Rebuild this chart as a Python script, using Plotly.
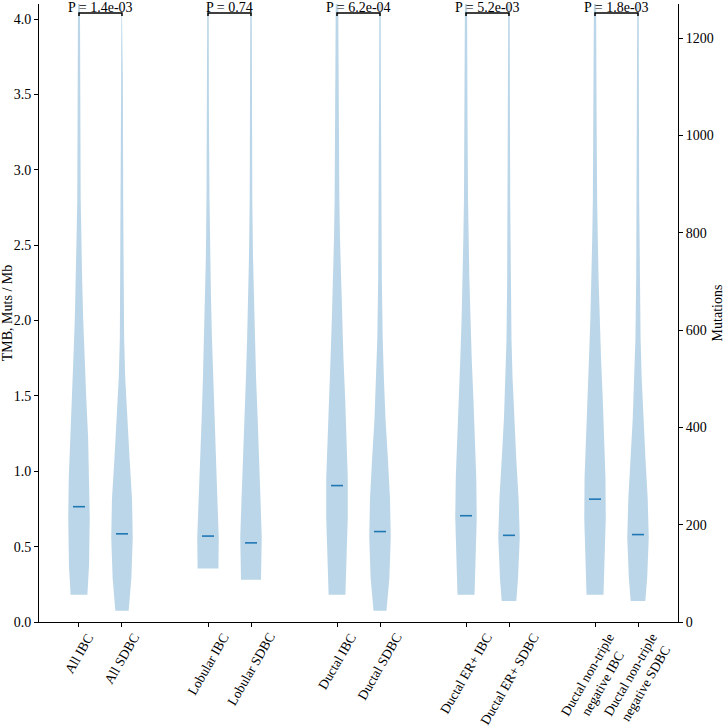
import plotly.graph_objects as go

# ---------------- data ----------------
categories = ["All IBC", "All SDBC", "Lobular IBC", "Lobular SDBC",
              "Ductal IBC", "Ductal SDBC", "Ductal ER+ IBC", "Ductal ER+ SDBC",
              "Ductal non-triple<br>negative IBC", "Ductal non-triple<br>negative SDBC"]
positions = [0, 1, 3, 4, 6, 7, 9, 10, 12, 13]
medians = [0.765, 0.585, 0.57, 0.525, 0.905, 0.60, 0.705, 0.575, 0.815, 0.58]

# violin outlines: TMB levels and relative width (1 = widest)
viol_y = [
    [0.18, 0.37, 0.69, 0.96, 1.22, 1.48, 1.75, 2.01, 2.28, 2.54, 2.80, 3.33, 3.86, 4.30],
    [0.075, 0.29, 0.56, 0.82, 1.09, 1.35, 1.62, 1.88, 2.28, 2.80, 3.60, 4.30],
    [0.355, 0.56, 0.82, 1.09, 1.35, 1.62, 1.88, 2.14, 2.41, 2.80, 3.33, 4.30],
    [0.28, 0.56, 0.82, 1.09, 1.35, 1.62, 1.88, 2.14, 2.41, 2.80, 3.33, 4.30],
    [0.18, 0.43, 0.69, 0.96, 1.22, 1.48, 1.75, 2.01, 2.28, 2.54, 2.80, 3.33, 3.86, 4.30],
    [0.075, 0.29, 0.56, 0.82, 1.09, 1.35, 1.62, 1.88, 2.28, 2.80, 3.60, 4.30],
    [0.18, 0.43, 0.69, 0.96, 1.22, 1.48, 1.75, 2.01, 2.28, 2.54, 2.80, 3.33, 3.86, 4.30],
    [0.14, 0.29, 0.56, 0.82, 1.09, 1.35, 1.62, 1.88, 2.28, 2.80, 3.60, 4.30],
    [0.18, 0.43, 0.69, 0.96, 1.22, 1.48, 1.75, 2.01, 2.28, 2.54, 2.80, 3.33, 3.86, 4.30],
    [0.14, 0.29, 0.56, 0.82, 1.09, 1.35, 1.62, 1.88, 2.28, 2.80, 3.60, 4.30],
]
viol_w = [
    [0.78, 0.93, 1.00, 0.95, 0.85, 0.68, 0.52, 0.39, 0.29, 0.23, 0.16, 0.13, 0.10, 0.08],
    [0.62, 0.87, 1.00, 0.93, 0.70, 0.47, 0.30, 0.20, 0.14, 0.11, 0.08, 0.05],
    [0.97, 1.00, 0.87, 0.74, 0.59, 0.47, 0.37, 0.28, 0.20, 0.14, 0.09, 0.06],
    [0.93, 1.00, 0.88, 0.78, 0.62, 0.47, 0.36, 0.25, 0.19, 0.12, 0.09, 0.06],
    [0.78, 0.90, 1.00, 1.00, 0.90, 0.76, 0.60, 0.48, 0.36, 0.28, 0.22, 0.16, 0.12, 0.10],
    [0.60, 0.87, 1.00, 0.93, 0.73, 0.51, 0.36, 0.25, 0.17, 0.11, 0.08, 0.06],
    [0.79, 0.90, 1.00, 0.95, 0.85, 0.69, 0.53, 0.41, 0.31, 0.25, 0.19, 0.14, 0.11, 0.09],
    [0.68, 0.84, 1.00, 0.89, 0.67, 0.47, 0.33, 0.23, 0.17, 0.11, 0.08, 0.06],
    [0.79, 0.90, 1.00, 0.97, 0.88, 0.72, 0.56, 0.43, 0.33, 0.26, 0.20, 0.15, 0.11, 0.09],
    [0.68, 0.85, 1.00, 0.90, 0.69, 0.49, 0.34, 0.24, 0.17, 0.11, 0.08, 0.06],
]

pairs = [(0, 1), (3, 4), (6, 7), (9, 10), (12, 13)]
pvalues = ["P = 1.4e-03", "P = 0.74", "P = 6.2e-04", "P = 5.2e-03", "P = 1.8e-03"]

y_ticks = [0.0, 0.5, 1.0, 1.5, 2.0, 2.5, 3.0, 3.5, 4.0]
y2_ticks = [0, 200, 400, 600, 800, 1000, 1200]
y_max = 4.1
muts_per_tmb = 309.75

# ---------------- figure ----------------
FONT = "Liberation Serif"
FS = 14
fig = go.Figure()

half = 0.25  # half of the violin width
for pos, ys, ws in zip(positions, viol_y, viol_w):
    xs = [pos + half * w for w in ws] + [pos - half * w for w in reversed(ws)]
    yy = list(ys) + list(reversed(ys))
    fig.add_trace(go.Scatter(x=xs, y=yy, fill="toself", mode="lines",
                             line=dict(width=0), fillcolor="rgba(31,119,180,0.3)",
                             hoverinfo="skip", showlegend=False))

for pos, m in zip(positions, medians):
    fig.add_trace(go.Scatter(x=[pos - 0.14, pos + 0.14], y=[m, m], mode="lines",
                             line=dict(color="#1f77b4", width=1.6),
                             showlegend=False, hoverinfo="skip"))

for (a, b), ptxt in zip(pairs, pvalues):
    fig.add_trace(go.Scatter(x=[a, a, b, b], y=[4.02, 4.04, 4.04, 4.02], mode="lines",
                             line=dict(color="black", width=1.5),
                             showlegend=False, hoverinfo="skip", cliponaxis=False))
    fig.add_annotation(x=(a + b) / 2, y=4.04, text=ptxt, showarrow=False,
                       xref="x", yref="y", yanchor="bottom", yshift=-3.5,
                       font=dict(family=FONT, size=FS, color="black"))

# invisible trace on the secondary axis
fig.add_trace(go.Scatter(x=[positions[0]], y=[0], yaxis="y2", mode="markers",
                         marker=dict(opacity=0), showlegend=False, hoverinfo="skip"))

for pos, lab in zip(positions, categories):
    fig.add_annotation(x=pos, y=0, xref="x", yref="paper", text=lab, showarrow=False,
                       textangle=-60, xanchor="center", yanchor="top", yshift=-6,
                       align="center", font=dict(family=FONT, size=13.5, color="black"))

fig.update_layout(
    width=725, height=726,
    margin=dict(l=39, r=47, t=4, b=104, autoexpand=False),
    plot_bgcolor="white", paper_bgcolor="white",
    font=dict(family=FONT, size=FS, color="black"),
    showlegend=False,
    xaxis=dict(range=[-0.93, 13.93], tickvals=positions, ticktext=[""] * len(positions),
               showline=True, linecolor="black", linewidth=1, ticks="outside",
               ticklen=4, tickcolor="black", showgrid=False, zeroline=False,
               automargin=False),
    yaxis=dict(range=[0, y_max], tickvals=y_ticks, ticktext=[f"{v:.1f}" for v in y_ticks],
               showline=True, linecolor="black", linewidth=1, ticks="outside",
               ticklen=4, tickcolor="black", showgrid=False, zeroline=False,
               automargin=False,
               title=dict(text="TMB, Muts / Mb", standoff=4,
                          font=dict(family=FONT, size=FS))),
    yaxis2=dict(range=[0, y_max * muts_per_tmb], overlaying="y", side="right",
                tickvals=y2_ticks, showline=True, linecolor="black", linewidth=1,
                ticks="outside", ticklen=4, tickcolor="black", showgrid=False,
                zeroline=False, automargin=False,
                title=dict(text="Mutations", standoff=4, font=dict(family=FONT, size=FS))),
)

fig.write_html("out.html", config={"displayModeBar": False},
               post_script="document.body.style.margin='0px';document.body.style.overflow='hidden';")
